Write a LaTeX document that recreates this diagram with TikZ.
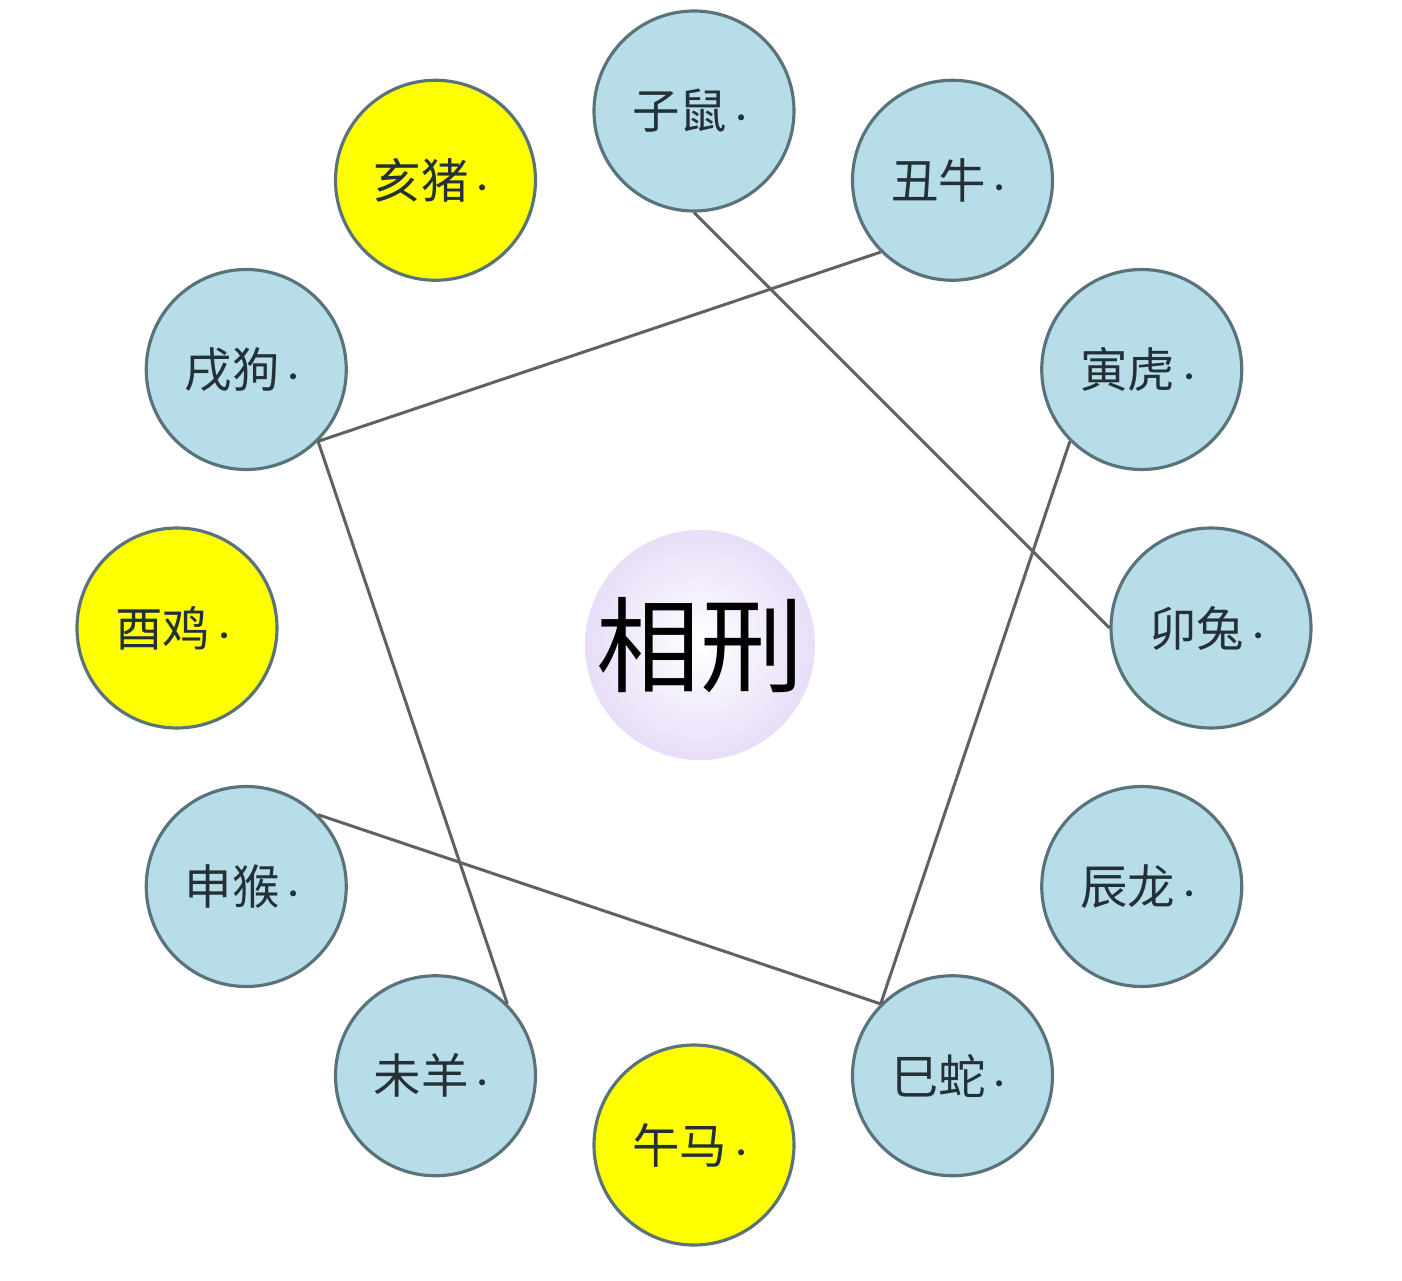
\documentclass[tikz,border=0pt]{standalone}
\usepackage{fontspec}
\newfontfamily\cjk{Noto Sans CJK SC}
\usetikzlibrary{positioning,calc}

\definecolor{ballblue}{RGB}{183,221,232}
\definecolor{ballyellow}{RGB}{255,255,0}
\definecolor{rimgray}{RGB}{90,115,122}
\definecolor{txtgray}{RGB}{35,48,54}
\definecolor{lavender}{RGB}{232,222,248}

\newcommand{\pmark}{{\fontsize{16}{16}\selectfont·}}

\begin{document}
\begin{tikzpicture}[
        animsty/.style={
            draw=rimgray, line width=1.8pt,
            circle, fill=ballblue,
            minimum size=4cm, inner sep=0pt,
            text=txtgray,
            font=\cjk\fontsize{27}{30}\selectfont,
        },
        yelsty/.style={animsty, fill=ballyellow},
        hubsty/.style={
            circle, minimum size=4.6cm, inner sep=0pt,
            inner color=white, outer color=lavender,
            font=\cjk\fontsize{59}{62}\selectfont,
        },
        linksty/.style={line width=1.7pt, draw=black!62},
    ]
    \useasboundingbox (-13.88,-13.04) rectangle (14.16,12.56);

    \node[hubsty] at (0.12,-0.34) (hub) {相刑};

    \node[animsty] at (90:10.34) (zi) {子鼠\pmark};
    \node[animsty] at (60:10.34) (chou) {丑牛\pmark};
    \node[animsty] at (30:10.34) (yin) {寅虎\pmark};
    \node[animsty] at (0:10.34) (mao) {卯兔\pmark};
    \node[animsty] at (-30:10.34) (chen) {辰龙\pmark};
    \node[animsty] at (-60:10.34) (si) {巳蛇\pmark};
    \node[yelsty] at (-90:10.34) (wu) {午马\pmark};
    \node[animsty] at (-120:10.34) (wei) {未羊\pmark};
    \node[animsty] at (-150:10.34) (shen) {申猴\pmark};
    \node[yelsty] at (180:10.34) (you) {酉鸡\pmark};
    \node[animsty] at (150:10.34) (xu) {戌狗\pmark};
    \node[yelsty] at (120:10.34) (hai) {亥猪\pmark};

    \draw[linksty] (zi.south) -- (mao.west);
    \draw[linksty] (chou.south west) -- (xu.south east);
    \draw[linksty] (xu.south east) -- (wei.north east);
    \draw[linksty] (yin.south west) -- (si.north west);
    \draw[linksty] (shen.north east) -- (si.north west);

    \end{tikzpicture}
\end{document}
